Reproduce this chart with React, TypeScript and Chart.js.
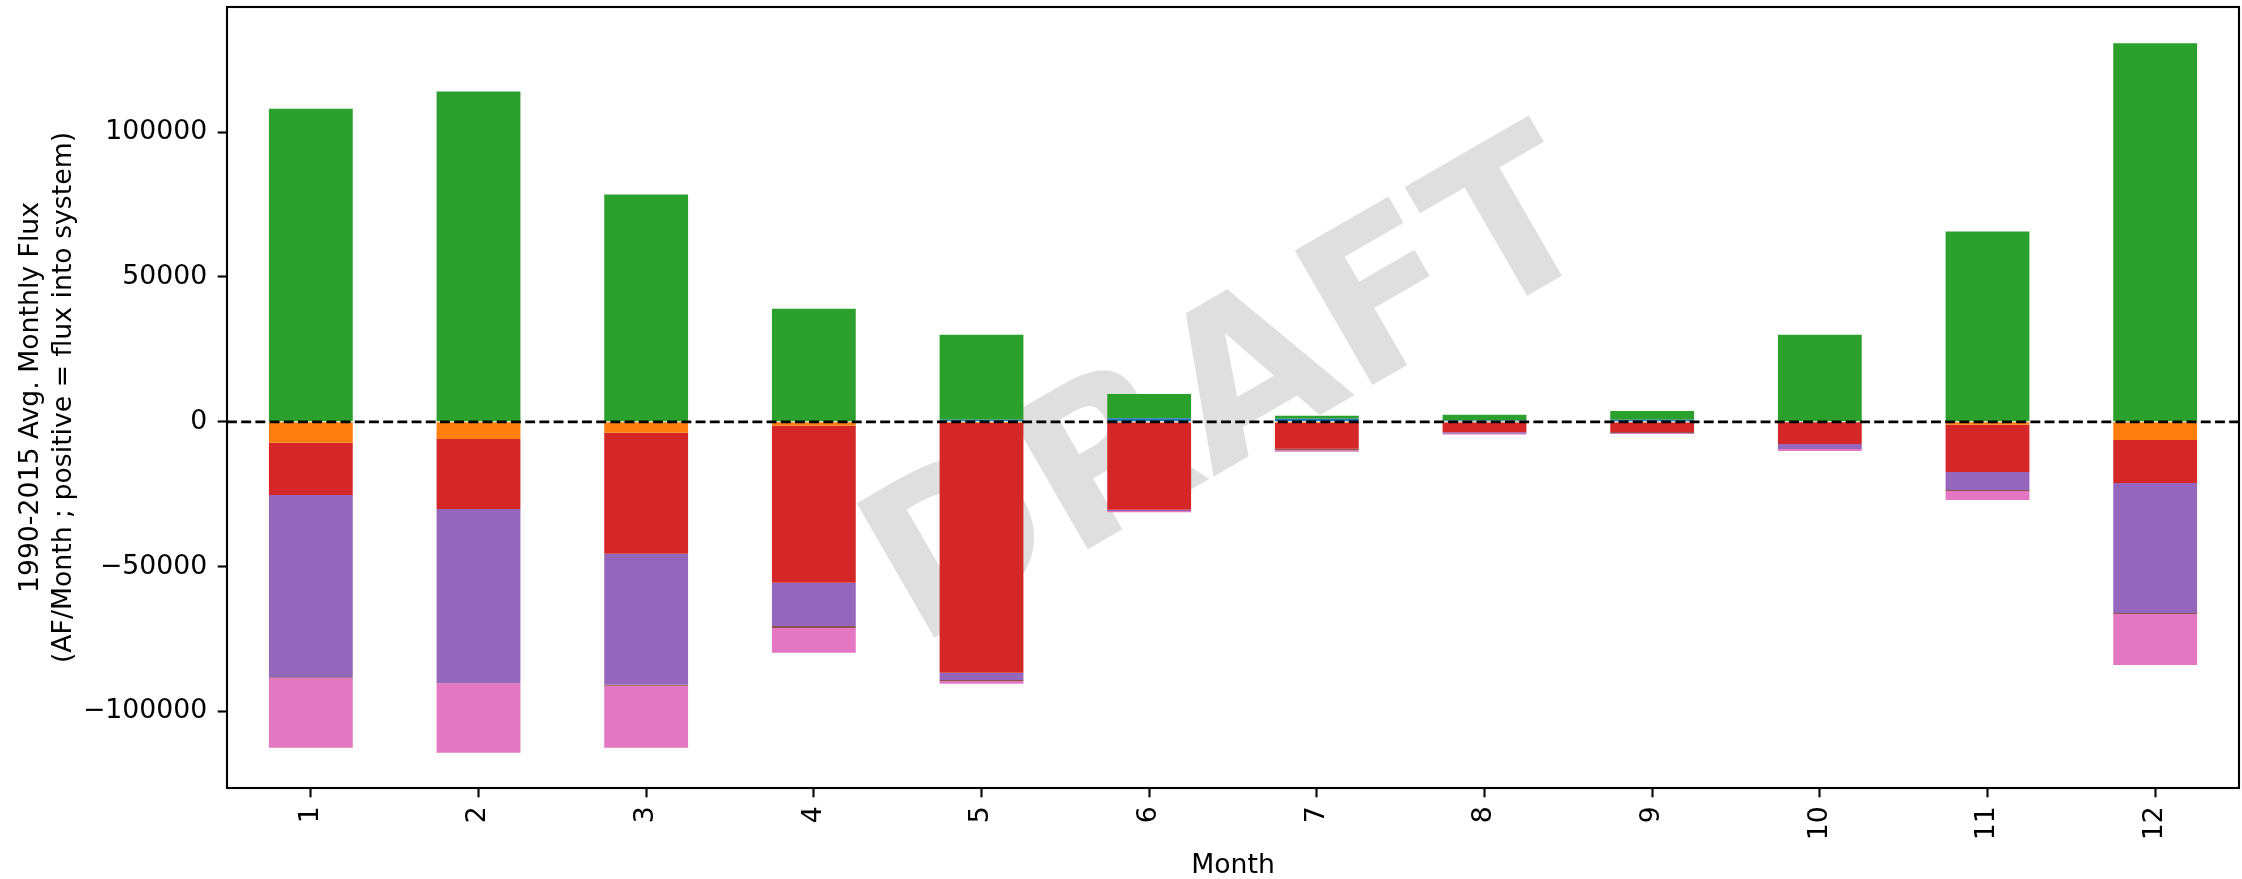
import React, { useEffect, useRef } from 'react';
import { Chart, registerables } from 'chart.js';

Chart.register(...registerables);

const months = ['1', '2', '3', '4', '5', '6', '7', '8', '9', '10', '11', '12'];
const blueSeries = [0, 0, 0, 0, 700, 1200, 1100, 500, 700, 0, 0, 0];
const orangeSeries = [-7200, -5940, -3760, -1340, -400, -300, -400, -200, -200, 0, -1000, -6290];
const greenSeries = [108100, 114000, 78500, 39000, 29400, 8400, 1000, 1950, 3000, 30100, 65700, 130700];
const redSeries = [-18080, -24170, -41780, -54220, -86230, -30050, -8880, -3430, -3320, -7670, -16330, -14840];
const purpleSeries = [-62850, -60090, -45240, -14950, -2530, -450, 0, -480, 0, -1730, -6220, -44890];
const brownSeries = [-340, 0, -320, -690, -340, 0, -570, 0, -350, 0, -350, -350];
const pinkSeries = [-24060, -24050, -21430, -8520, -930, -450, -450, -250, -340, -690, -3100, -17610];
const yTicks = [-100000, -50000, 0, 50000, 100000];

const FONT = 'DejaVu Sans';

const watermarkPlugin = {
  id: 'watermark',
  beforeDatasetsDraw(chart: any) {
    const { ctx, chartArea } = chart;
    const cx = (chartArea.left + chartArea.right) / 2;
    const cy = (chartArea.top + chartArea.bottom) / 2;
    const size = 213;
    ctx.save();
    ctx.translate(cx, cy);
    ctx.rotate(-Math.PI / 6);
    ctx.font = `bold ${size}px "${FONT}"`;
    ctx.fillStyle = '#dfdfdf';
    ctx.textAlign = 'center';
    ctx.textBaseline = 'alphabetic';
    ctx.fillText('DRAFT', 0, 0.276 * size);
    ctx.restore();
  },
};

const overlayPlugin = {
  id: 'overlay',
  afterDatasetsDraw(chart: any) {
    const { ctx, chartArea } = chart;
    const y0 = chart.scales.y.getPixelForValue(0);
    ctx.save();
    ctx.strokeStyle = '#000';
    ctx.lineWidth = 2.67;
    ctx.setLineDash([9.9, 4.3]);
    ctx.beginPath();
    ctx.moveTo(chartArea.left, y0);
    ctx.lineTo(chartArea.right, y0);
    ctx.stroke();
    ctx.setLineDash([]);
    ctx.lineWidth = 2.1;
    ctx.strokeRect(chartArea.left, chartArea.top, chartArea.right - chartArea.left, chartArea.bottom - chartArea.top);
    ctx.restore();
  },
};

export default function App() {
  const ref = useRef<HTMLCanvasElement | null>(null);

  useEffect(() => {
    document.body.style.margin = '0';
    const canvas = ref.current;
    if (!canvas) return;
    const mk = (label: string, data: number[], color: string) => ({
      label,
      data,
      backgroundColor: color,
      borderWidth: 0,
      inflateAmount: 0,
      categoryPercentage: 1,
      barPercentage: 0.5,
    });
    const tickFont = { family: FONT, size: 26.7 };
    const chart = new Chart(canvas, {
      type: 'bar',
      data: {
        labels: months,
        datasets: [
          mk('Series 1', blueSeries, '#1f77b4'),
          mk('Series 2', orangeSeries, '#ff7f0e'),
          mk('Series 3', greenSeries, '#2ca02c'),
          mk('Series 4', redSeries, '#d62728'),
          mk('Series 5', purpleSeries, '#9467bd'),
          mk('Series 6', brownSeries, '#8c564b'),
          mk('Series 7', pinkSeries, '#e377c2'),
        ],
      },
      options: {
        animation: false,
        responsive: false,
        devicePixelRatio: 1,
        layout: { padding: { left: 0, right: 3, top: 7, bottom: 0 } },
        plugins: {
          legend: { display: false },
          tooltip: { enabled: false },
          title: { display: false },
        },
        scales: {
          x: {
            stacked: true,
            offset: true,
            grid: {
              display: true,
              drawOnChartArea: false,
              drawTicks: true,
              tickLength: 9.3,
              tickWidth: 2.1,
              tickColor: '#000',
              offset: false,
            },
            border: { display: false },
            ticks: {
              autoSkip: false,
              maxRotation: 90,
              minRotation: 90,
              padding: 9,
              color: '#000',
              font: tickFont,
            },
            title: {
              display: true,
              text: 'Month',
              color: '#000',
              font: { family: FONT, size: 26.7, lineHeight: 1.0 },
              padding: { top: 0, bottom: 0 },
            },
            afterFit: (s: any) => {
              s.height = 91;
              s.paddingLeft = 0;
              s.paddingRight = 0;
            },
          },
          y: {
            stacked: true,
            min: -126400,
            max: 143200,
            grid: {
              display: true,
              drawOnChartArea: false,
              drawTicks: true,
              tickLength: 9.3,
              tickWidth: 2.1,
              tickColor: '#000',
            },
            border: { display: false },
            afterBuildTicks: (s: any) => {
              s.ticks = yTicks.map((v) => ({ value: v }));
            },
            ticks: {
              padding: 10.5,
              color: '#000',
              font: tickFont,
              callback: (v: any) => (Number(v) < 0 ? '\u2212' + Math.abs(Number(v)) : String(v)),
            },
            title: {
              display: true,
              text: ['1990-2015 Avg. Monthly Flux', '(AF/Month ; positive = flux into system)'],
              color: '#000',
              font: { family: FONT, size: 26.7, lineHeight: 1.22 },
              padding: { top: 15, bottom: 0 },
            },
            afterFit: (s: any) => {
              s.width = 227;
              s.paddingTop = 0;
              s.paddingBottom = 0;
            },
          },
        },
      },
      plugins: [watermarkPlugin, overlayPlugin],
    } as any);
    return () => chart.destroy();
  }, []);

  return (
    <div style={{ position: 'absolute', left: 0, top: 0, width: 2242, height: 879, background: '#fff' }}>
      <canvas ref={ref} width={2242} height={879} style={{ display: 'block', width: 2242, height: 879 }} />
    </div>
  );
}
